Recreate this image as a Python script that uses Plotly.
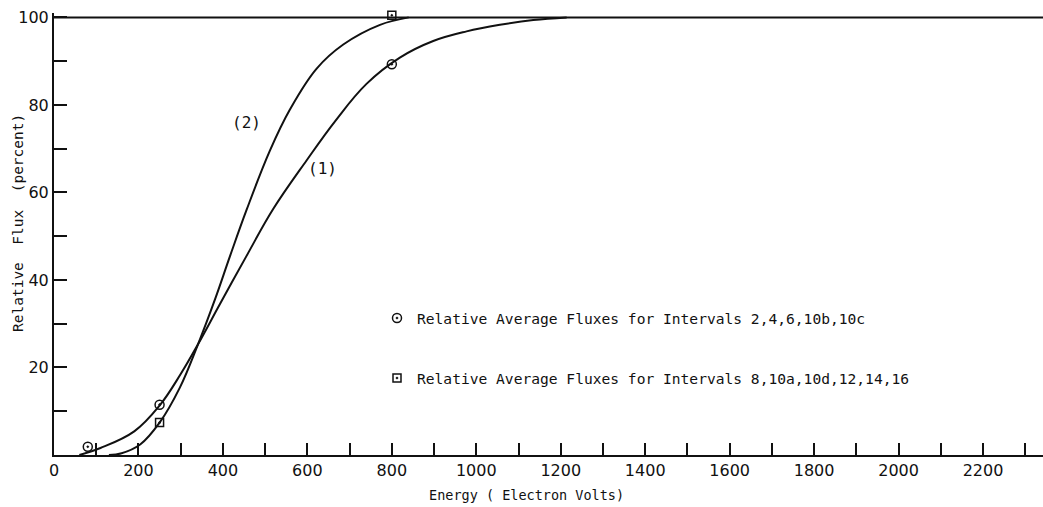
import plotly.graph_objects as go

# ---- data ----
curve1_x = [60, 110, 190, 250, 300, 341, 393, 456, 519, 598, 665, 740, 819, 898, 977, 1056, 1135, 1214]
curve1_y = [0, 1.6, 5.4, 11.3, 18.5, 25.3, 34.5, 45.5, 56.2, 67.3, 76.2, 84.8, 90.8, 94.6, 96.8, 98.3, 99.4, 100]

curve2_x = [130, 160, 204, 250, 298, 341, 381, 417, 456, 511, 559, 622, 685, 772, 840]
curve2_y = [0, 0.4, 2.4, 7.4, 15.4, 25.3, 35.5, 45.5, 56.0, 69.5, 79.0, 88.3, 93.8, 98.3, 100]

asymptote_x = [0, 2342]
asymptote_y = [100, 100]

circle_x = [80, 250, 800]
circle_y = [1.9, 11.5, 89.3]
square_x = [250, 800]
square_y = [7.4, 100.5]

legend1 = "Relative Average Fluxes for Intervals 2,4,6,10b,10c"
legend2 = "Relative Average Fluxes for Intervals 8,10a,10d,12,14,16"

x_ticks = list(range(0, 2201, 200))
y_ticks = [20, 40, 60, 80, 100]

FONT = "DejaVu Sans"
LETTER = "DejaVu Sans Mono"
INK = "#111111"

fig = go.Figure()
line_style = dict(color=INK, width=2, shape="spline", smoothing=1.1)
fig.add_trace(go.Scatter(x=asymptote_x, y=asymptote_y, mode="lines",
                         line=dict(color=INK, width=2), showlegend=False, hoverinfo="skip"))
fig.add_trace(go.Scatter(x=curve1_x, y=curve1_y, mode="lines", line=line_style,
                         showlegend=False, name="(1)"))
fig.add_trace(go.Scatter(x=curve2_x, y=curve2_y, mode="lines", line=line_style,
                         showlegend=False, name="(2)"))
fig.add_trace(go.Scatter(x=circle_x, y=circle_y, mode="markers", name=legend1,
                         legendgroup="a", cliponaxis=False,
                         marker=dict(symbol="circle-open-dot", size=9, color=INK,
                                     line=dict(width=1.5, color=INK))))
fig.add_trace(go.Scatter(x=square_x, y=square_y, mode="markers", name=legend2,
                         legendgroup="b", cliponaxis=False,
                         marker=dict(symbol="square-open-dot", size=8, color=INK,
                                     line=dict(width=1.5, color=INK))))

fig.add_annotation(x=455, y=76, text="(2)", showarrow=False,
                   font=dict(family=LETTER, size=16, color=INK))
fig.add_annotation(x=635, y=65.5, text="(1)", showarrow=False,
                   font=dict(family=LETTER, size=16, color=INK))

fig.add_annotation(xref="paper", yref="paper", x=(526 - 54) / 989, y=-(495 - 455) / 442,
                   text="Energy ( Electron Volts)", showarrow=False,
                   font=dict(family=LETTER, size=13.5, color=INK), yanchor="middle")
fig.add_annotation(xref="paper", yref="paper", x=-(54 - 18) / 989, y=(455 - 223) / 442,
                   text="Relative  Flux  (percent)", showarrow=False, textangle=-90,
                   font=dict(family=LETTER, size=14.5, color=INK), xanchor="center", yanchor="middle")

fig.update_layout(
    width=1043, height=507,
    margin=dict(l=54, r=0, t=13, b=52),
    paper_bgcolor="white", plot_bgcolor="white",
    font=dict(family=FONT, color=INK),
    legend=dict(x=(377 - 54) / 989, y=(455 - 302) / 442, xanchor="left", yanchor="top",
                bgcolor="rgba(0,0,0,0)", font=dict(family=LETTER, size=14.6, color=INK),
                tracegroupgap=38, traceorder="grouped"),
    showlegend=True,
)
fig.update_xaxes(range=[0, 2342], tickvals=x_ticks, ticks="inside", ticklen=12, tickwidth=1.5,
                 tickcolor=INK, showline=True, linecolor=INK, linewidth=2, showgrid=False,
                 zeroline=False, tickfont=dict(family=FONT, size=16, color=INK),
                 minor=dict(dtick=100, tick0=0, ticks="inside", ticklen=12, tickwidth=1.5,
                            tickcolor=INK, showgrid=False))
fig.update_yaxes(range=[0, 101], tickvals=y_ticks, ticks="inside", ticklen=13, tickwidth=1.5,
                 tickcolor=INK, showline=True, linecolor=INK, linewidth=2, showgrid=False,
                 zeroline=False, tickfont=dict(family=FONT, size=16, color=INK),
                 minor=dict(dtick=10, tick0=0, ticks="inside", ticklen=13, tickwidth=1.5,
                            tickcolor=INK, showgrid=False))

fig.write_html("out.html")
